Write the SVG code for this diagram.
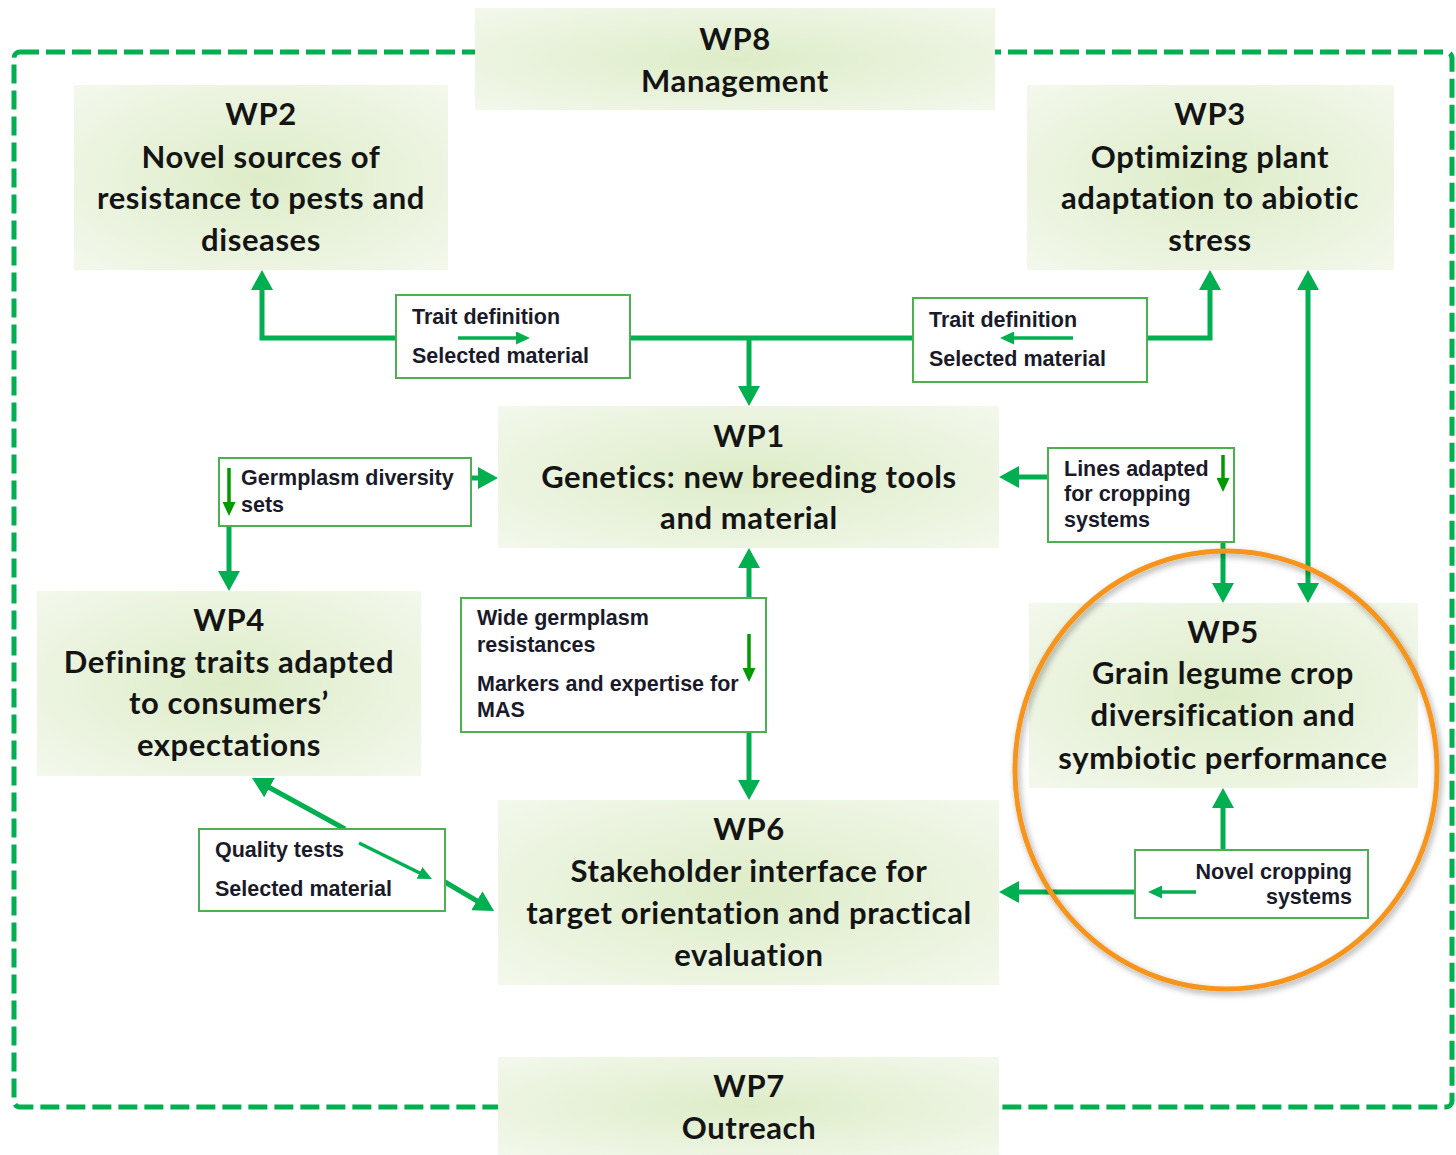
<svg xmlns="http://www.w3.org/2000/svg" width="1456" height="1155" viewBox="0 0 1456 1155">
<defs>
<radialGradient id="ng" cx="0.5" cy="0.5" r="0.7">
<stop offset="0" stop-color="#ddecc8"/>
<stop offset="1" stop-color="#f3f8ec"/>
</radialGradient>
<marker id="ah" viewBox="0 0 20 22" refX="8" refY="11" markerWidth="20" markerHeight="22" markerUnits="userSpaceOnUse" orient="auto-start-reverse">
<path d="M0,0 L20,11 L0,22 z" fill="#00b050"/>
</marker>
<marker id="sa" viewBox="0 0 14 13" refX="6" refY="6.5" markerWidth="14" markerHeight="13" markerUnits="userSpaceOnUse" orient="auto">
<path d="M0,0 L14,6.5 L0,13 z" fill="#00b050"/>
</marker>
<marker id="sd" viewBox="0 0 14 13" refX="6" refY="6.5" markerWidth="14" markerHeight="13" markerUnits="userSpaceOnUse" orient="auto">
<path d="M0,0 L14,6.5 L0,13 z" fill="#009a00"/>
</marker>
<filter id="sh" x="-10%" y="-10%" width="120%" height="120%">
<feGaussianBlur in="SourceAlpha" stdDeviation="3"/>
<feOffset dx="2" dy="3" result="b"/>
<feFlood flood-color="#000" flood-opacity="0.35"/>
<feComposite in2="b" operator="in"/>
<feMerge><feMergeNode/><feMergeNode in="SourceGraphic"/></feMerge>
</filter>
</defs>
<style>
.node rect{fill:url(#ng);}
.nt{font-family:Lato,"Open Sans",sans-serif;font-weight:700;font-size:31px;letter-spacing:0.6px;fill:#141414;text-anchor:middle;}
.lb rect{fill:#fff;stroke:#4caf50;stroke-width:2;}
.lt{font-family:"Liberation Sans",Arial,sans-serif;font-weight:700;font-size:21.5px;fill:#1a1a2a;}
.c{fill:none;stroke:#00b050;stroke-width:5;}
.ca{fill:none;stroke:#00b050;stroke-width:5;marker-end:url(#ah);}
.sa{fill:none;stroke:#00b050;stroke-width:3.5;marker-end:url(#sa);}
.sd{fill:none;stroke:#009a00;stroke-width:3.5;marker-end:url(#sd);}
</style>
<rect x="14" y="52" width="1438" height="1055" rx="6" fill="none" stroke="#00b050" stroke-width="5" stroke-dasharray="19 7"/>

<g id="wp8" class="node"><rect x="475" y="8" width="520" height="102"/>
<text class="nt" x="735" y="50">WP8</text><text class="nt" x="735" y="92">Management</text></g>
<g id="wp2" class="node"><rect x="74" y="85" width="374" height="185"/>
<text class="nt" x="261" y="125">WP2</text><text class="nt" x="261" y="168">Novel sources of</text><text class="nt" x="261" y="209">resistance to pests and</text><text class="nt" x="261" y="251">diseases</text></g>
<g id="wp3" class="node"><rect x="1027" y="85" width="367" height="185"/>
<text class="nt" x="1210" y="125">WP3</text><text class="nt" x="1210" y="168">Optimizing plant</text><text class="nt" x="1210" y="209">adaptation to abiotic</text><text class="nt" x="1210" y="251">stress</text></g>
<g id="wp1" class="node"><rect x="498" y="406" width="501" height="142"/>
<text class="nt" x="749" y="447">WP1</text><text class="nt" x="749" y="488">Genetics: new breeding tools</text><text class="nt" x="749" y="529">and material</text></g>
<g id="wp4" class="node"><rect x="37" y="591" width="384" height="185"/>
<text class="nt" x="229" y="631">WP4</text><text class="nt" x="229" y="673">Defining traits adapted</text><text class="nt" x="229" y="714">to consumers’</text><text class="nt" x="229" y="756">expectations</text></g>
<g id="wp5" class="node"><rect x="1029" y="603" width="389" height="185"/>
<text class="nt" x="1223" y="643">WP5</text><text class="nt" x="1223" y="684">Grain legume crop</text><text class="nt" x="1223" y="726">diversification and</text><text class="nt" x="1223" y="769">symbiotic performance</text></g>
<g id="wp6" class="node"><rect x="498" y="800" width="501" height="185"/>
<text class="nt" x="749" y="840">WP6</text><text class="nt" x="749" y="882">Stakeholder interface for</text><text class="nt" x="749" y="924">target orientation and practical</text><text class="nt" x="749" y="966">evaluation</text></g>
<g id="wp7" class="node"><rect x="498" y="1057" width="501" height="98"/>
<text class="nt" x="749" y="1097">WP7</text><text class="nt" x="749" y="1139">Outreach</text></g>

<g id="connectors">
<path class="ca" d="M396,338 H262 V282"/>
<path class="c" d="M630,338 H913"/>
<path class="ca" d="M749,338 V394"/>
<path class="ca" d="M1147,338 H1210 V282"/>
<path class="ca" d="M1308,282 V591" marker-start="url(#ah)"/>
<path class="ca" d="M471,478 H486"/>
<path class="ca" d="M229,526 V579"/>
<path class="ca" d="M1048,477 H1011"/>
<path class="ca" d="M1223,542 V591"/>
<path class="ca" d="M749,598 V560"/>
<path class="ca" d="M749,732 V788"/>
<path class="ca" d="M345,829 L262.5,783.8"/>
<path class="ca" d="M445,882 L483.7,904.9"/>
<path class="ca" d="M1223,850 V800"/>
<path class="ca" d="M1135,892 H1011"/>
</g>

<g id="lbl1" class="lb"><rect x="396" y="295" width="234" height="83"/>
<text class="lt" x="412" y="324">Trait definition</text><text class="lt" x="412" y="363">Selected material</text>
<path class="sa" d="M458,338 H522"/></g>
<g id="lbl2" class="lb"><rect x="913" y="298" width="234" height="84"/>
<text class="lt" x="929" y="327">Trait definition</text><text class="lt" x="929" y="366">Selected material</text>
<path class="sa" d="M1073,338 H1008"/></g>
<g id="lbl3" class="lb"><rect x="219" y="458" width="252" height="68"/>
<text class="lt" x="241" y="485">Germplasm diversity</text><text class="lt" x="241" y="512">sets</text>
<path class="sd" d="M229,468 V508"/></g>
<g id="lbl4" class="lb"><rect x="1048" y="448" width="186" height="94"/>
<text class="lt" x="1064" y="476">Lines adapted</text><text class="lt" x="1064" y="501">for cropping</text><text class="lt" x="1064" y="527">systems</text>
<path class="sd" d="M1223,455 V484"/></g>
<g id="lbl5" class="lb"><rect x="461" y="598" width="305" height="134"/>
<text class="lt" x="477" y="625">Wide germplasm</text><text class="lt" x="477" y="652">resistances</text><text class="lt" x="477" y="691">Markers and expertise for</text><text class="lt" x="477" y="717">MAS</text>
<path class="sd" d="M749,634 V674"/></g>
<g id="lbl6" class="lb"><rect x="199" y="829" width="246" height="82"/>
<text class="lt" x="215" y="857">Quality tests</text><text class="lt" x="215" y="896">Selected material</text>
<path class="sa" d="M359,843 L424.8,875.5"/></g>
<g id="lbl7" class="lb"><rect x="1135" y="850" width="233" height="68"/>
<text class="lt" x="1352" y="879" text-anchor="end">Novel cropping</text><text class="lt" x="1352" y="904" text-anchor="end">systems</text>
<path class="sa" d="M1196,892 H1156"/></g>

<ellipse cx="1226" cy="770" rx="211" ry="219" fill="none" stroke="#f7941d" stroke-width="5" filter="url(#sh)"/>
</svg>
